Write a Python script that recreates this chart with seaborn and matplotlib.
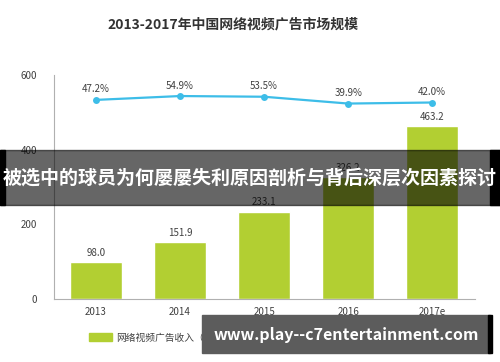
import numpy as np
import pandas as pd
import matplotlib
matplotlib.use("Agg")
import matplotlib.pyplot as plt
from matplotlib.patches import Rectangle
from matplotlib.lines import Line2D
import seaborn as sns

years = ["2013", "2014", "2015", "2016", "2017e"]
revenue = [98.0, 151.9, 233.1, 326.2, 463.2]
growth = [47.2, 54.9, 53.5, 39.9, 42.0]
y_ticks = [0, 200, 400, 600]

title = "2013-2017年中国网络视频广告市场规模"
bar_label = "网络视频广告收入（亿元）"
line_label = "同比增长率（%）"
banner_text = "被选中的球员为何屡屡失利原因剖析与背后深层次因素探讨"
url_text = "www.play--c7entertainment.com"

green = "#b2cf32"
blue = "#3dbde8"
text_gray = "#404040"

sns.set_theme(style="white")
plt.rcParams["font.family"] = ["Noto Sans CJK SC", "DejaVu Sans"]

df = pd.DataFrame({"year": years, "revenue": revenue, "growth": growth})

fig = plt.figure(figsize=(5, 3.62), dpi=100)
ax = fig.add_axes([0.108, 0.174, 0.842, 0.619])

sns.barplot(data=df, x="year", y="revenue", color=green, width=0.62,
            saturation=1, ax=ax)
ax.set_xlim(-0.5, 4.51)
ax.set_ylim(0, 600)
ax.set_yticks(y_ticks)
ax.set_xlabel("")
ax.set_ylabel("")
ax.tick_params(axis="both", length=0, labelsize=7, colors=text_gray)
ax.tick_params(axis="y", pad=12)
ax.tick_params(axis="x", pad=6)
for side in ["top", "right"]:
    ax.spines[side].set_visible(False)
for side in ["left", "bottom"]:
    ax.spines[side].set_color("#b0b0b0")
    ax.spines[side].set_linewidth(0.8)

for i, v in enumerate(revenue):
    ax.text(i, v + 12, f"{v:.1f}", ha="center", va="bottom", fontsize=7,
            color=text_gray)

ax2 = ax.twinx()
sns.lineplot(x=np.arange(len(years)), y=growth, color=blue, marker="o",
             markersize=5, markeredgewidth=0, linewidth=1.6, ax=ax2)
ax2.set_ylim(-350, 97)
ax2.axis("off")
for i, g in enumerate(growth):
    ax2.text(i, g + 11, f"{g:.1f}%", ha="center", va="bottom", fontsize=7,
             color=text_gray)

fig.text(0.466, 0.932, title, ha="center", va="center", fontsize=10,
         fontweight="bold", color="#333333")

handles = [Rectangle((0, 0), 1, 1, color=green),
           Line2D([], [], color=blue, marker="o", markersize=5, linewidth=1.6)]
fig.legend(handles, [bar_label, line_label], loc="center left",
           bbox_to_anchor=(0.16, 0.068), ncol=2, frameon=False, fontsize=7,
           handlelength=2.4, handleheight=0.9, handletextpad=0.4,
           columnspacing=6, labelcolor=text_gray)

# overlay banners
fig.patches.append(Rectangle((0, 1 - 205 / 362), 1, 55 / 362,
                             transform=fig.transFigure, color="black",
                             alpha=0.6, zorder=10))
fig.patches.append(Rectangle((0, 1 - 205 / 362), 0.01, 55 / 362,
                             transform=fig.transFigure, color="black",
                             zorder=11))
fig.patches.append(Rectangle((0.98, 1 - 205 / 362), 0.02, 55 / 362,
                             transform=fig.transFigure, color="black",
                             zorder=11))
fig.text(0.5, 1 - 178 / 362, banner_text, ha="center", va="center",
         fontsize=13.7, fontweight="bold", color="white", zorder=12)

fig.patches.append(Rectangle((202 / 500, 1 - 353 / 362), 288 / 500, 38 / 362,
                             transform=fig.transFigure, color="#5c5c5c",
                             zorder=10))
fig.patches.append(Rectangle((488 / 500, 1 - 353 / 362), 4 / 500, 38 / 362,
                             transform=fig.transFigure, color="black",
                             zorder=11))
fig.text(346 / 500, 1 - 335 / 362, url_text, ha="center", va="center",
         fontsize=11.5, fontweight="bold", color="white", zorder=12)

fig.savefig("out.png", dpi=100)
